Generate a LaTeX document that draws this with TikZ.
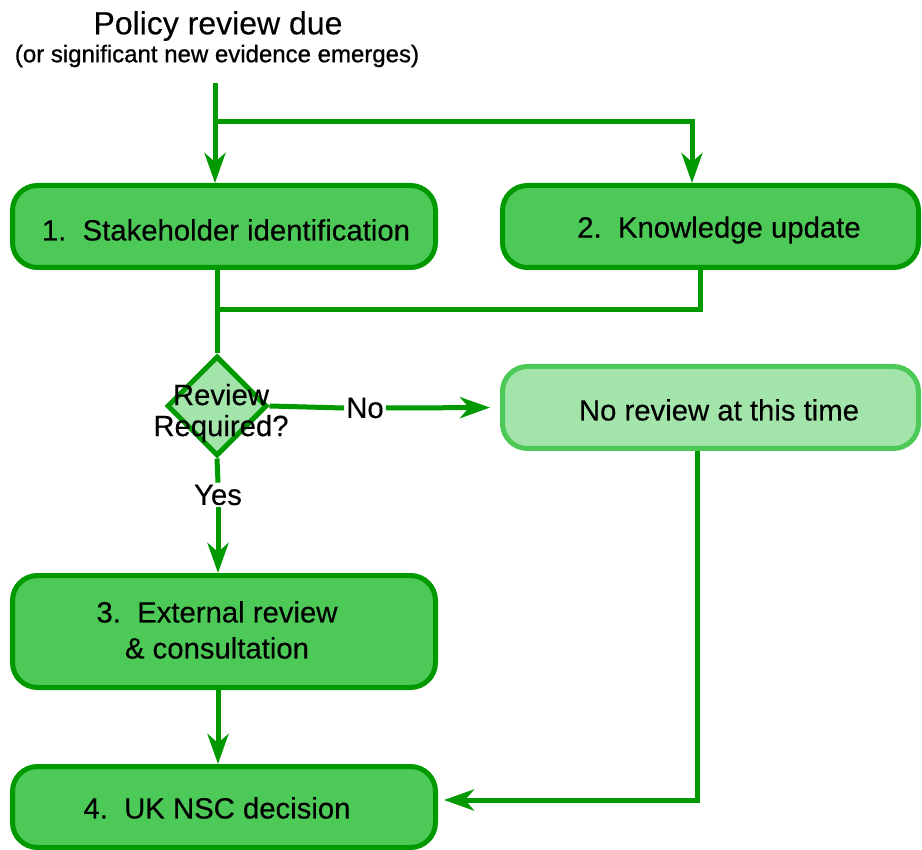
\documentclass[tikz,border=0pt]{standalone}
\usepackage{fontspec}
\setmainfont{Liberation Sans}[FakeBold=0.3]
\newfontfamily\subfont{Liberation Sans}[FakeBold=0.9]
\usetikzlibrary{arrows.meta,shapes.geometric}
\definecolor{edgegreen}{RGB}{0,153,0}
\definecolor{boxgreen}{RGB}{76,201,87}
\definecolor{lightgreen}{RGB}{163,228,170}
\tikzset{
  box/.style={draw=edgegreen, fill=boxgreen, line width=5pt, rounded corners=25pt,
    inner sep=0pt, align=center, font=\fontsize{29.3}{36}\selectfont},
  lightbox/.style={box, draw=boxgreen, fill=lightgreen},
  conn/.style={draw=edgegreen, line width=5pt},
  arr/.style={conn, -{Stealth[length=30pt,width=21pt,inset=9pt]}},
  lbl/.style={inner sep=2pt, font=\fontsize{29.3}{31}\selectfont, align=center},
  boxtext/.style={lbl, font=\fontsize{29.3}{36}\selectfont}
}
\begin{document}
\begin{tikzpicture}[x=1pt,y=-1pt]
\useasboundingbox (0,0) rectangle (922,850);
% title
\node[font=\fontsize{32}{36}\selectfont] (title) at (218,26) {Policy review due};
\node[font=\subfont\fontsize{24}{28}\selectfont] (sub) at (217,56) {(or significant new evidence emerges)};
% boxes
\node[box, minimum width=423pt, minimum height=82pt] (n1) at (224,226.5) {};
\node[boxtext] (t1) at (226,230) {1.\ \ Stakeholder identification};
\node[box, minimum width=416pt, minimum height=82pt] (n2) at (710.5,226.5) {};
\node[boxtext] (t2) at (719,230) {2.\ \ Knowledge update};
\node[lightbox, minimum width=416pt, minimum height=82pt] (nr) at (710.5,407.5) {};
\node[boxtext] (tr) at (719,410) {No review at this time};
\node[box, minimum width=423pt, minimum height=112pt] (n3) at (224,631.5) {};
\node[boxtext] (t3) at (217,630) {3.\ \ External review\\\& consultation};
\node[box, minimum width=423pt, minimum height=81pt] (n4) at (224,807) {};
\node[boxtext] (t4) at (217,808) {4.\ \ UK NSC decision};
% diamond
\node[diamond, draw=edgegreen, fill=lightgreen, line width=5pt, minimum width=100pt, minimum height=100pt, inner sep=0pt] (d) at (217,406) {};
\node[lbl] (dtext) at (221,413) {Review\\Required?};
\node[lbl] (no) at (365,408) {No};
\node[lbl] (yes) at (218,495) {Yes};
% coordinates
\coordinate (s) at (215,83);
\coordinate (j1) at (215,122);
\coordinate (k2) at (692,122);
\coordinate (m) at (217,310);
\coordinate (m2) at (700,310);
\coordinate (c1) at (697,800);
% connectors
\draw[arr] (s) -- (s |- n1.north);
\draw[arr] (j1) -- (k2) -- (k2 |- n2.north);
\draw[conn] (d.north |- n1.south) -- (d.north);
\draw[conn] (m2 |- n2.south) -- (m2) -- (m);
\draw[conn] (d.east) -- (no.west);
\draw[arr, shorten >=10pt] (no.east) -- (nr.west);
\draw[conn] (d.south) -- (yes.north);
\draw[arr] (yes.south) -- (yes.south |- n3.north);
\draw[arr] (n3.south -| yes.south) -- (yes.south |- n4.north);
\draw[arr, shorten >=6pt] (c1 |- nr.south) -- (c1) -- (n4.east |- c1);
\end{tikzpicture}
\end{document}
